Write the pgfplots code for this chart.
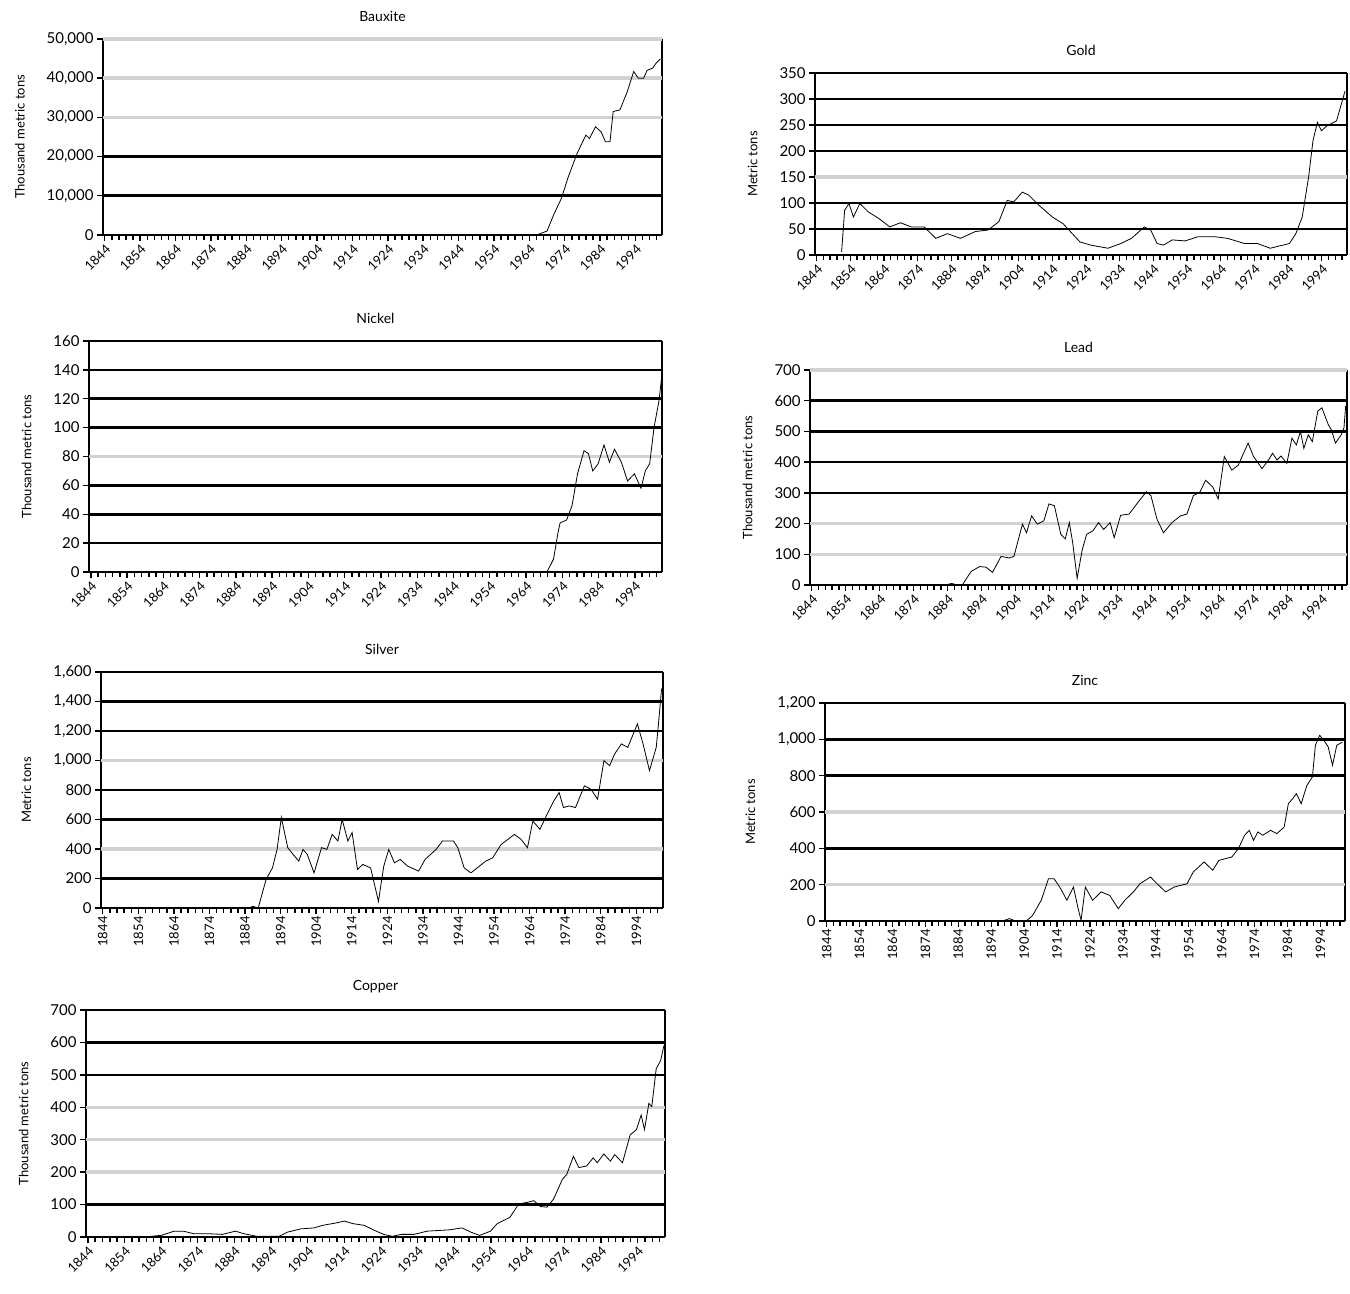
\documentclass[border=0pt]{standalone}
\usepackage{pgfplots}
\pgfplotsset{compat=1.18}
\usepackage{fontspec}
\setmainfont{Lato}
\pgfplotsset{
  panel/.style={
    scale only axis, anchor=south west,
    axis x line*=bottom, axis y line*=box,
    axis line style={black, line width=1pt},
    xmin=1843.5, xmax=2001.5, ymin=0,
    xtick={1844,1854,...,1994},
    minor xtick={1844,1846,...,2000},
    xtick pos=bottom, ytick pos=left,
    tick align=outside,
    tick style={black, line width=0.7pt},
    major tick length=3pt, minor tick length=2.5pt,
    ymajorgrids,
    major grid style={black, line width=1.3pt},
    extra y tick style={grid=major, major grid style={gray!35, line width=1.7pt}},
    scaled y ticks=false,
    /pgf/number format/.cd, 1000 sep={,}, assume math mode=true, /pgfplots/.cd,
    yticklabel style={font=\fontsize{7.5}{8}\selectfont, inner sep=1.5pt},
    x tick label style={/pgf/number format/1000 sep={}},
    ylabel style={font=\fontsize{6.5}{7}\selectfont},
    title style={font=\fontsize{7}{8}\selectfont, yshift=-1pt},
    cycle list={{black, line width=0.55pt, mark=none}},
  },
  diag/.style={xticklabel style={font=\fontsize{6.5}{7}\selectfont, rotate=45, anchor=north east, inner sep=0.8pt}},
  vlabels/.style={xticklabel style={font=\fontsize{6.5}{7}\selectfont, rotate=90, anchor=east, inner sep=1pt}},
}
\begin{document}
\begin{tikzpicture}
% Bauxite
\begin{axis}[panel, diag, at={(51.5pt,529.5pt)}, width=279.5pt, height=98pt,
  ymax=50000, ytick={0,10000,20000}, extra y ticks={30000,40000,50000},
  title={Bauxite}, ylabel={Thousand metric tons}]
\addplot coordinates {(1966,0)(1969,1000)(1971,5400)(1973,9200)(1975,14800)(1977.5,20800)(1980,25500)(1981,24600)(1982.7,27600)(1984.3,26300)(1985.5,23800)(1986.8,23800)(1987.7,31500)(1989.6,31900)(1991.7,36600)(1993.5,41700)(1994.8,40000)(1996.3,40000)(1997.3,42000)(1998.9,42600)(1999.8,43800)(2001,44900)};
\end{axis}
% Gold
\begin{axis}[panel, diag, at={(407.5pt,519.5pt)}, width=266pt, height=91pt,
  ymax=350, ytick={0,50,100,200,250,300,350}, extra y ticks={150},
  title={Gold}, ylabel={Metric tons}]
\addplot coordinates {(1851.4,6)(1852.3,86)(1853.6,99)(1854.9,73)(1856.8,99)(1859.3,83)(1862.5,70)(1865.7,54)(1868.9,62)(1872,54)(1875.9,54)(1879.4,32)(1882.8,41)(1886.7,32)(1891.1,45)(1894.9,48)(1898.1,64)(1900.6,105)(1902.5,102)(1905.1,121)(1907,115)(1910.1,95)(1914,73)(1917.2,60)(1922.2,25)(1925.4,19)(1930.5,13)(1934.3,22)(1937.5,32)(1941.3,54)(1943.2,48)(1945.1,22)(1947,19)(1949.6,29)(1953.4,27)(1957.2,35)(1962.3,35)(1966,32)(1971.1,22)(1974.9,22)(1978.7,13)(1982.5,19)(1984.4,22)(1986.3,41)(1988.2,73)(1990.1,150)(1991.4,220)(1992.7,255)(1993.9,239)(1995.5,248)(1998.4,258)(2000.9,315)};
\end{axis}
% Nickel
\begin{axis}[panel, diag, at={(44.5pt,361pt)}, width=286.5pt, height=115.5pt,
  ymax=160, ytick={0,20,40,60,100,120,140,160}, extra y ticks={80},
  title={Nickel}, ylabel={Thousand metric tons}]
\addplot coordinates {(1969.8,0)(1971.6,9)(1972.8,27)(1973.4,34)(1975.2,36)(1976.7,46)(1978.2,68)(1980,84)(1981.2,82)(1982.4,70)(1983.9,75)(1985.5,88)(1987,76)(1988.4,85)(1990.3,76)(1992,63)(1993.9,68)(1995.7,58)(1996.9,70)(1998.1,75)(1999.3,100)(2000.7,119)(2001.4,135)};
\end{axis}
% Lead
\begin{axis}[panel, diag, at={(405pt,354.5pt)}, width=268.5pt, height=107.5pt,
  ymax=700, ytick={0,300,400,500,600}, extra y ticks={100,200,700},
  title={Lead}, ylabel={Thousand metric tons}]
\addplot coordinates {(1883.3,0)(1885.2,5)(1886.8,0)(1888.3,0)(1890.9,44)(1893.4,60)(1895.3,58)(1897.2,41)(1899.7,93)(1902.2,88)(1903.5,93)(1906,198)(1907.2,170)(1908.7,225)(1910.4,198)(1912.3,209)(1913.8,264)(1915.4,258)(1917.3,165)(1918.6,150)(1919.8,203)(1920.8,137)(1922.1,22)(1923.6,115)(1924.9,165)(1926.7,176)(1928.4,203)(1929.9,181)(1931.8,203)(1933,154)(1934.9,227)(1937.4,231)(1940,269)(1942.5,304)(1943.8,291)(1945.6,214)(1947.5,170)(1950,203)(1952.5,225)(1954.4,231)(1956.3,291)(1958.2,302)(1959.9,341)(1962,319)(1963.6,280)(1965.4,418)(1967.6,374)(1969.5,390)(1972.4,462)(1974,418)(1976.5,379)(1978.4,407)(1979.6,429)(1980.9,407)(1982.1,420)(1983.8,396)(1985.3,478)(1986.6,456)(1987.8,500)(1988.8,445)(1990.1,489)(1991.3,467)(1992.9,566)(1994.1,577)(1996,522)(1996.9,505)(1998.1,462)(1999.8,489)(2000.6,511)(2001.1,582)};
\end{axis}
% Silver
\begin{axis}[panel, vlabels, at={(50.5pt,193pt)}, width=281pt, height=118pt,
  ymax=1600, ytick={0,200,600,800,1200,1400,1600}, extra y ticks={400,1000},
  title={Silver}, ylabel={Metric tons}]
\addplot coordinates {(1885,0)(1886.2,11)(1887.7,0)(1889.9,193)(1891.7,272)(1893,397)(1894.2,613)(1896,409)(1897.5,363)(1899.1,318)(1900.3,397)(1901.5,363)(1903.4,238)(1905.5,409)(1907,397)(1908.5,499)(1910.1,454)(1911.3,601)(1912.9,454)(1914.1,511)(1915.6,261)(1917.1,295)(1919.3,272)(1921.5,45)(1923,284)(1924.4,397)(1926,306)(1927.6,329)(1929.7,284)(1932.8,250)(1934.6,329)(1937.7,397)(1939.5,454)(1942.6,454)(1943.8,409)(1945.6,272)(1947.5,238)(1949.9,284)(1951.7,318)(1953.6,340)(1956,431)(1957.9,465)(1959.7,499)(1961.6,465)(1963.4,409)(1964.9,590)(1966.9,533)(1968.9,635)(1970.8,726)(1972.3,783)(1973.5,681)(1975.1,692)(1976.9,681)(1979.4,828)(1981.2,806)(1983.1,738)(1984.9,999)(1986.5,965)(1987.9,1044)(1989.8,1112)(1991.6,1089)(1994.3,1248)(1995.9,1112)(1997.7,931)(1999.6,1089)(2000.4,1294)(2001.1,1487)};
\end{axis}
% Zinc
\begin{axis}[panel, vlabels, at={(412.5pt,186.5pt)}, width=260pt, height=109pt,
  ymax=1200, ytick={0,400,800,1000,1200}, extra y ticks={200,600},
  title={Zinc}, ylabel={Metric tons}]
\addplot coordinates {(1897.5,0)(1899.5,13)(1901.4,0)(1904.7,0)(1906.6,31)(1909.2,114)(1911.4,233)(1913.1,233)(1915.1,178)(1917,114)(1919,187)(1920.3,77)(1921.3,4)(1922.6,187)(1924.8,114)(1927.4,160)(1930,141)(1932.6,68)(1934.6,114)(1937.2,160)(1939.2,205)(1942.4,242)(1944.4,205)(1947,160)(1949.6,187)(1951.5,196)(1953.5,205)(1955.4,270)(1958.7,325)(1961.3,279)(1963.2,334)(1967.1,352)(1969.1,398)(1971,472)(1972.4,499)(1973.7,444)(1975,490)(1976.5,472)(1978.9,499)(1980.8,481)(1983,517)(1984.3,646)(1985.6,673)(1986.7,701)(1988.2,646)(1989.9,746)(1991.6,793)(1992.5,967)(1993.8,1022)(1995.1,994)(1996.4,958)(1997.7,857)(1999,967)(2000.7,985)};
\end{axis}
% Copper
\begin{axis}[panel, diag, at={(43pt,28.5pt)}, width=289.5pt, height=113.5pt,
  ymax=700, ytick={0,100,500,600,700}, extra y ticks={200,300,400},
  title={Copper}, ylabel={Thousand metric tons}]
\addplot coordinates {(1844,0)(1859.3,0)(1864,5)(1867.6,18)(1870,18)(1873,10)(1877.1,10)(1880.7,8)(1884.3,18)(1886.6,10)(1890.2,2)(1896.2,2)(1898.5,15)(1902.1,25)(1905.7,28)(1908.1,36)(1911.6,43)(1914,49)(1916.4,41)(1919.4,36)(1922.3,20)(1924.7,8)(1927.1,2)(1929.5,8)(1933,8)(1936.6,18)(1942.6,22)(1946.1,28)(1948.5,15)(1950.9,5)(1953.9,18)(1955.7,41)(1959.2,61)(1961.6,102)(1964,107)(1965.7,112)(1967.5,94)(1969.3,92)(1971.1,117)(1973.5,178)(1974.7,193)(1976.5,249)(1978,214)(1980.1,219)(1981.9,244)(1983,229)(1984.8,256)(1986.6,234)(1987.8,254)(1989.9,229)(1992,315)(1993.7,331)(1995,376)(1995.9,331)(1997.1,412)(1997.9,402)(1999.1,519)(2000.3,544)(2001.2,590)};
\end{axis}
\pgfresetboundingbox
\path (0,0) rectangle (675pt,647pt);
\end{tikzpicture}
\end{document}
